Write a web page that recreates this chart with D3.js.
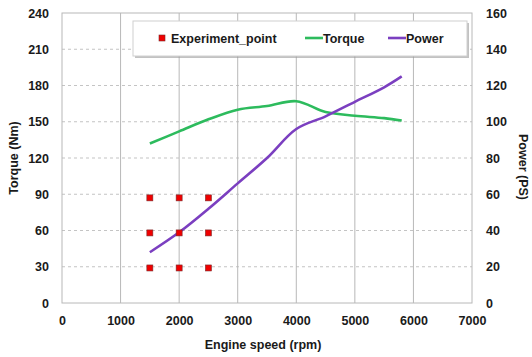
<!doctype html>
<html>
<head>
<meta charset="utf-8">
<script src="https://cdnjs.cloudflare.com/ajax/libs/d3/7.8.5/d3.min.js"></script>
<style>
    body { margin: 0; background: #fff; }
    svg text { font-family: "Liberation Sans", Arial, sans-serif; font-weight: bold; fill: #1a1a1a; }
    .tick line { visibility: hidden; }
    .domain { visibility: hidden; }
</style>
</head>
<body>
<div id="chart"></div>
<script>
// Experiment points (rpm, torque Nm)
var expSpeed = [1500, 2000, 2500];
var expTorque = [29, 58, 87];

// Torque curve
var torqueSpeed = [1500, 2000, 2500, 3000, 3500, 4000, 4500, 5000, 5500, 5800];
var torqueVals  = [132, 142, 152, 160, 163, 167, 158, 155, 153, 151];

// Power curve
var powerSpeed = [1500, 2000, 2500, 3000, 3500, 4000, 4500, 5000, 5500, 5800];
var powerVals  = [28, 39, 52, 66, 80, 96, 103, 111, 119, 125];

var xTicks = [0, 1000, 2000, 3000, 4000, 5000, 6000, 7000];
var yTicks = [0, 30, 60, 90, 120, 150, 180, 210, 240];
var y2Ticks = [0, 20, 40, 60, 80, 100, 120, 140, 160];

var W = 532, H = 357;
var margin = { top: 13, right: 60, bottom: 54, left: 62 };
var width = W - margin.left - margin.right,
    height = H - margin.top - margin.bottom;

var svg = d3.select("#chart").append("svg")
    .attr("width", W)
    .attr("height", H);

var g = svg.append("g")
    .attr("transform", "translate(" + margin.left + "," + margin.top + ")");

var x = d3.scaleLinear().domain([0, 7000]).range([0, width]);
var y = d3.scaleLinear().domain([0, 240]).range([height, 0]);
var y2 = d3.scaleLinear().domain([0, 160]).range([height, 0]);

// Grid: horizontal dashed
g.selectAll(".hgrid")
    .data(yTicks.slice(1, -1))
    .enter().append("line")
    .attr("x1", 0).attr("x2", width)
    .attr("y1", function(d) { return y(d); })
    .attr("y2", function(d) { return y(d); })
    .attr("stroke", "#c4c4c4")
    .attr("stroke-width", 1.2)
    .attr("stroke-dasharray", "3,3");

// Grid: vertical solid
g.selectAll(".vgrid")
    .data(xTicks.slice(1, -1))
    .enter().append("line")
    .attr("y1", 0).attr("y2", height)
    .attr("x1", function(d) { return x(d); })
    .attr("x2", function(d) { return x(d); })
    .attr("stroke", "#b8b8b8")
    .attr("stroke-width", 1);

// Plot border
g.append("rect")
    .attr("width", width).attr("height", height)
    .attr("fill", "none")
    .attr("stroke", "#b8b8b8")
    .attr("stroke-width", 1);

// Axes
g.append("g")
    .attr("transform", "translate(0," + height + ")")
    .call(d3.axisBottom(x).tickValues(xTicks).tickFormat(d3.format("d")).tickSize(0).tickPadding(13))
    .selectAll("text").style("font-size", "12.5px");

g.append("g")
    .call(d3.axisLeft(y).tickValues(yTicks).tickSize(0).tickPadding(13))
    .selectAll("text").style("font-size", "12.5px");

g.append("g")
    .attr("transform", "translate(" + width + ",0)")
    .call(d3.axisRight(y2).tickValues(y2Ticks).tickSize(0).tickPadding(14))
    .selectAll("text").style("font-size", "12.5px");

// Axis titles
svg.append("text")
    .attr("x", margin.left + width / 2 - 4)
    .attr("y", 349)
    .attr("text-anchor", "middle")
    .style("font-size", "12.5px")
    .text("Engine speed (rpm)");

svg.append("text")
    .attr("transform", "translate(18,158) rotate(-90)")
    .attr("text-anchor", "middle")
    .style("font-size", "12.5px")
    .text("Torque (Nm)");

svg.append("text")
    .attr("transform", "translate(519,167) rotate(90)")
    .attr("text-anchor", "middle")
    .style("font-size", "12.5px")
    .text("Power (PS)");

// Lines
var torqueLine = d3.line()
    .x(function(d) { return x(d[0]); })
    .y(function(d) { return y(d[1]); })
    .curve(d3.curveCatmullRom);

var powerLine = d3.line()
    .x(function(d) { return x(d[0]); })
    .y(function(d) { return y2(d[1]); })
    .curve(d3.curveCatmullRom);

g.append("path")
    .datum(d3.zip(torqueSpeed, torqueVals))
    .attr("fill", "none")
    .attr("stroke", "#2dbb5d")
    .attr("stroke-width", 2.6)
    .attr("d", torqueLine);

g.append("path")
    .datum(d3.zip(powerSpeed, powerVals))
    .attr("fill", "none")
    .attr("stroke", "#7b3fc0")
    .attr("stroke-width", 2.6)
    .attr("d", powerLine);

// Experiment points
var pts = [];
expSpeed.forEach(function(s) {
    expTorque.forEach(function(t) { pts.push([s, t]); });
});
g.selectAll(".pt")
    .data(pts)
    .enter().append("rect")
    .attr("x", function(d) { return x(d[0]) - 3; })
    .attr("y", function(d) { return y(d[1]) - 3; })
    .attr("width", 6).attr("height", 6)
    .attr("fill", "#f00000")
    .attr("stroke", "#7a2a2a")
    .attr("stroke-width", 0.6);

// Legend
var lg = svg.append("g").attr("transform", "translate(133,21)");
lg.append("rect")
    .attr("x", 2).attr("y", 2)
    .attr("width", 334).attr("height", 35)
    .attr("fill", "#9a9a9a").attr("opacity", 0.6);
lg.append("rect")
    .attr("width", 334).attr("height", 35)
    .attr("fill", "#fff")
    .attr("stroke", "#d0d0d0");

lg.append("rect")
    .attr("x", 26).attr("y", 14)
    .attr("width", 6).attr("height", 6)
    .attr("fill", "#f00000")
    .attr("stroke", "#7a2a2a")
    .attr("stroke-width", 0.6);
lg.append("text").attr("x", 38).attr("y", 21.5)
    .style("font-size", "12.5px").text("Experiment_point");

lg.append("line")
    .attr("x1", 172).attr("x2", 190).attr("y1", 17).attr("y2", 17)
    .attr("stroke", "#2dbb5d").attr("stroke-width", 2.6);
lg.append("text").attr("x", 190).attr("y", 21.5)
    .style("font-size", "12.5px").text("Torque");

lg.append("line")
    .attr("x1", 255).attr("x2", 273).attr("y1", 17).attr("y2", 17)
    .attr("stroke", "#7b3fc0").attr("stroke-width", 2.6);
lg.append("text").attr("x", 273).attr("y", 21.5)
    .style("font-size", "12.5px").text("Power");
</script>
</body>
</html>
